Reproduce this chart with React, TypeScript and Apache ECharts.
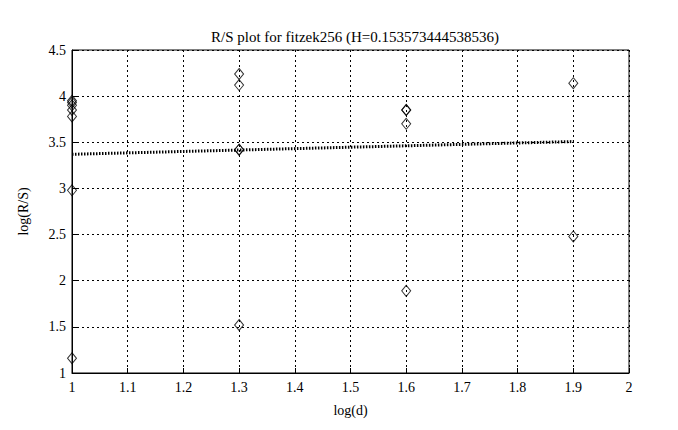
import React, { useEffect, useRef } from "react";
import * as echarts from "echarts";

const titleText = "R/S plot for fitzek256 (H=0.153573444538536)";
const xName = "log(d)";
const yName = "log(R/S)";

// scatter points (log(d), log(R/S))
const pointsX = [1, 1, 1, 1, 1, 1, 1, 1.3, 1.3, 1.3, 1.3, 1.3, 1.6, 1.6, 1.6, 1.6, 1.9, 1.9];
const pointsY = [3.95, 3.93, 3.9, 3.85, 3.78, 2.98, 1.16, 4.24, 4.12, 3.42, 3.42, 1.52, 3.85, 3.85, 3.7, 1.89, 4.14, 2.48];

// fitted line end points
const fitX = [1, 1.9];
const fitY = [3.37, 3.508];

export default function App() {
  const ref = useRef<HTMLDivElement>(null);
  useEffect(() => {
    const chart = echarts.init(ref.current!, null, { renderer: "svg" });
    const font = "'Liberation Serif', 'DejaVu Serif', serif";
    const axisCommon = {
      axisLine: { show: true, lineStyle: { color: "#000", width: 1 } },
      axisTick: { show: true, inside: true, length: 5, lineStyle: { color: "#000" } },
      splitLine: { show: true, lineStyle: { color: "#000", type: [2, 3], width: 1 } },
      nameTextStyle: { fontFamily: font, fontSize: 14, color: "#000" },
    };
    chart.setOption({
      animation: false,
      backgroundColor: "#fff",
      title: {
        text: titleText,
        left: 342,
        textAlign: "center",
        top: 16,
        textStyle: { fontFamily: font, fontSize: 15, fontWeight: "normal", color: "#000" },
      },
      grid: { left: 62, right: 41, top: 42, bottom: 49, show: true, borderColor: "#000", borderWidth: 1, backgroundColor: "transparent" },
      xAxis: {
        type: "value",
        min: 1,
        max: 2,
        interval: 0.1,
        name: xName,
        nameLocation: "middle",
        nameGap: 30,
        ...axisCommon,
        axisLabel: { fontFamily: font, fontSize: 14, color: "#000", margin: 7, formatter: (v: number) => String(Math.round(v * 10) / 10) },
      },
      yAxis: {
        type: "value",
        min: 1,
        max: 4.5,
        interval: 0.5,
        name: yName,
        nameLocation: "middle",
        nameGap: 42,
        ...axisCommon,
        axisLabel: { fontFamily: font, fontSize: 14, color: "#000", margin: 6 },
      },
      series: [
        {
          type: "line",
          data: fitX.map((x, i) => [x, fitY[i]]),
          showSymbol: false,
          symbol: "none",
          lineStyle: { color: "#000", width: 3, type: [1.5, 1.5] },
          z: 2,
        },
        {
          type: "scatter",
          data: pointsX.map((x, i) => [x, pointsY[i]]),
          symbol: "diamond",
          symbolSize: [9, 11],
          itemStyle: { color: "rgba(0,0,0,0)", borderColor: "#000", borderWidth: 1 },
          z: 3,
        },
      ],
    });
    return () => chart.dispose();
  }, []);
  return <div ref={ref} style={{ width: 662, height: 414 }} />;
}
